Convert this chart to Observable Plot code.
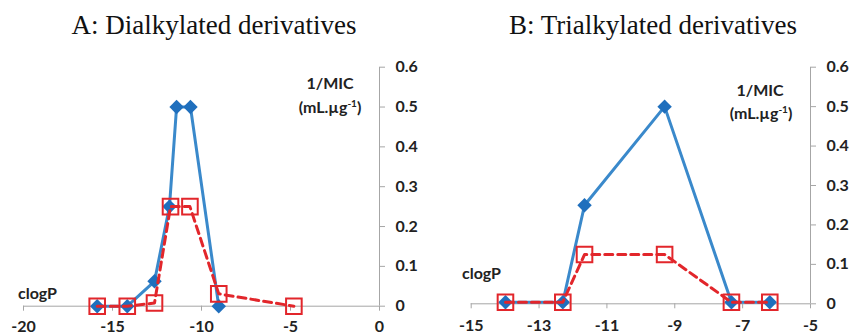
<!DOCTYPE html>
<html>
<head>
<meta charset="utf-8">
<script src="https://cdn.jsdelivr.net/npm/d3@7"></script>
<script src="https://cdn.jsdelivr.net/npm/@observablehq/plot@0.6"></script>
<style>
  html, body { margin: 0; padding: 0; background: #fff; }
  #wrap { position: relative; width: 853px; height: 335px; overflow: hidden; background: #fff; }
  .title { position: absolute; top: 12px; font-family: "Liberation Serif", "Times New Roman", serif; font-size: 27px; line-height: 27px; color: #111; text-align: center; white-space: nowrap; }
  .lab { position: absolute; font-family: Lato, "Open Sans", sans-serif; font-weight: bold; font-size: 16px; line-height: 16px; color: #222; white-space: nowrap; }
  .c { transform: translate(-50%, -50%); }
  .l { transform: translate(0, -50%); }
  sup { font-size: 10px; line-height: 0; vertical-align: 6px; }
  .panel { position: absolute; top: 50px; }
</style>
</head>
<body>
<div id="wrap">
  <div class="title" style="left:0;width:428px">A: Dialkylated derivatives</div>
  <div class="title" style="left:430px;width:446px">B: Trialkylated derivatives</div>
  <div id="pa" class="panel" style="left:0"></div>
  <div id="pb" class="panel" style="left:430px"></div>
  <div class="lab c" style="left:330px;top:83px">1/MIC</div>
  <div class="lab c" style="left:330px;top:107px">(mL.µg<sup>-1</sup>)</div>
  <div class="lab l" style="left:18px;top:293px">clogP</div>
  <div class="lab c" style="left:760px;top:90px">1/MIC</div>
  <div class="lab c" style="left:761px;top:113px">(mL.µg<sup>-1</sup>)</div>
  <div class="lab l" style="left:462px;top:273px">clogP</div>
</div>
<script>
// ---- Data ----
// Panel A: Dialkylated derivatives
const xTicksA = [-20, -15, -10, -5, 0];
const xTickLabelsA = ["-20", "-15", "-10", "-5", "0"];
const clogPBlueA = [-15.86, -14.17, -12.64, -11.8, -11.4, -10.62, -9.03];
const micBlueA   = [0, 0, 0.0625, 0.25, 0.5, 0.5, 0];
const clogPRedA  = [-15.86, -14.17, -12.64, -11.74, -10.65, -9.03, -4.81];
const micRedA    = [0, 0, 0.008, 0.25, 0.25, 0.031, 0];

// Panel B: Trialkylated derivatives
const xTicksB = [-15, -13, -11, -9, -7, -5];
const xTickLabelsB = ["-15", "-13", "-11", "-9", "-7", "-5"];
const clogPBlueB = [-13.99, -12.30, -11.66, -9.3, -7.33, -6.2];
const micBlueB   = [0.004, 0.004, 0.25, 0.5, 0.004, 0.004];
const clogPRedB  = [-13.99, -12.30, -11.66, -9.3, -7.33, -6.2];
const micRedB    = [0.004, 0.004, 0.125, 0.125, 0.004, 0.004];

// Shared y axis
const yTicks = [0, 0.1, 0.2, 0.3, 0.4, 0.5, 0.6];
const yTickLabels = ["0", "0.1", "0.2", "0.3", "0.4", "0.5", "0.6"];

const BLUE_LINE = "#3a89cb";
const BLUE_MARK = "#1f6fbd";
const RED = "#e2262b";
const AXIS = "#a6a6a6";
const TEXT = "#222";

function zip(xs, ys) { return xs.map((x, i) => ({x, y: ys[i]})); }

function panel({width, ml, mr, mb, xTicks, xLabels, blueX, blueY, redX, redY, padX}) {
  const blue = zip(blueX, blueY);
  const red = zip(redX, redY);
  const xDomain = [xTicks[0], xTicks[xTicks.length - 1]];
  return Plot.plot({
    width, height: 285,
    marginLeft: ml, marginRight: mr, marginTop: 16.7, marginBottom: mb,
    x: {domain: xDomain},
    y: {domain: [0, 0.6]},
    style: {fontFamily: "Lato, 'Open Sans', sans-serif", fontSize: "16px", fontWeight: "bold", color: TEXT, background: "transparent", overflow: "visible"},
    marks: [
      Plot.ruleY([0], {stroke: AXIS, strokeWidth: 1}),
      Plot.ruleX([xDomain[1]], {stroke: AXIS, strokeWidth: 1}),
      Plot.axisX({ticks: xTicks, tickSize: 5, tickPadding: padX, label: null,
        tickFormat: d => xLabels[xTicks.indexOf(d)], stroke: AXIS, fill: TEXT}),
      Plot.axisY({anchor: "right", ticks: yTicks, tickSize: 5, tickPadding: 11, label: null,
        tickFormat: d => yTickLabels[yTicks.indexOf(d)], stroke: AXIS, fill: TEXT}),
      Plot.line(blue, {x: "x", y: "y", stroke: BLUE_LINE, strokeWidth: 3, curve: "linear"}),
      Plot.dot(blue, {x: "x", y: "y", symbol: "diamond2", r: 6.5, fill: BLUE_MARK, stroke: "none"}),
      Plot.line(red, {x: "x", y: "y", stroke: RED, strokeWidth: 3, strokeDasharray: "8,5", curve: "linear"}),
      Plot.dot(red, {x: "x", y: "y", symbol: "square", r: 8.8, fill: "none", stroke: RED, strokeWidth: 2})
    ]
  });
}

document.getElementById("pa").appendChild(panel({
  width: 430, ml: 23, mr: 51, mb: 29.3,
  xTicks: xTicksA, xLabels: xTickLabelsA,
  blueX: clogPBlueA, blueY: micBlueA, redX: clogPRedA, redY: micRedA, padX: 9
}));
document.getElementById("pb").appendChild(panel({
  width: 423, ml: 40.7, mr: 43, mb: 31.7,
  xTicks: xTicksB, xLabels: xTickLabelsB,
  blueX: clogPBlueB, blueY: micBlueB, redX: clogPRedB, redY: micRedB, padX: 11
}));
</script>
</body>
</html>
